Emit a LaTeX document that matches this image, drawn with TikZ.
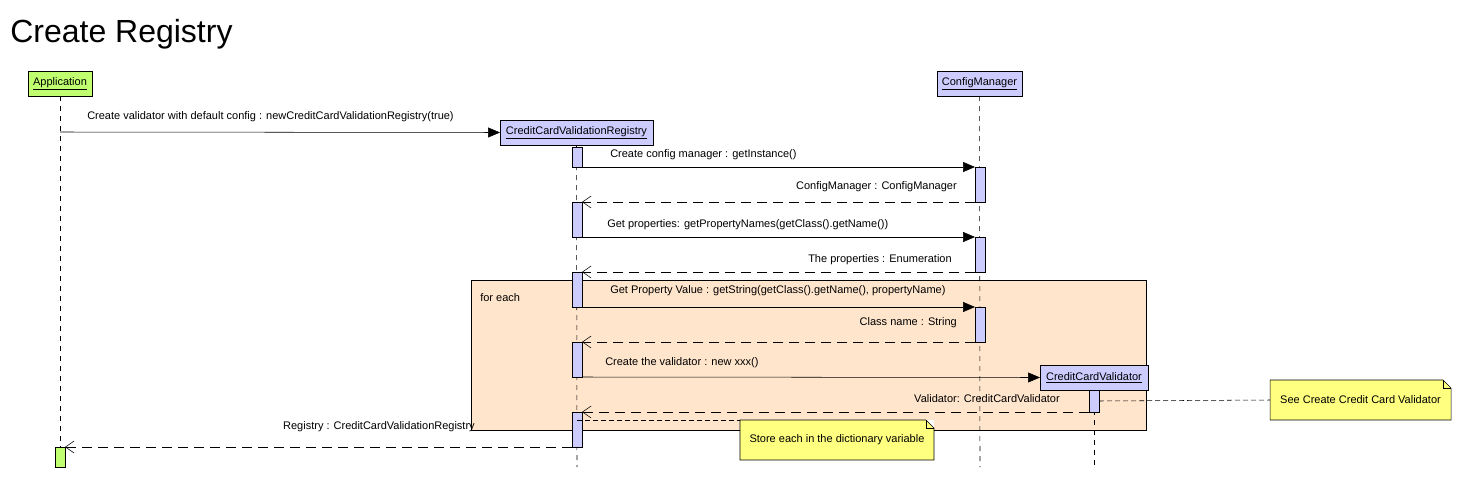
\documentclass[tikz,border=0pt]{standalone}
\usepackage{fontspec}
\setmainfont{Liberation Sans}
\usetikzlibrary{arrows.meta, positioning}
\definecolor{partblue}{RGB}{204,204,255}
\definecolor{partgreen}{RGB}{192,255,112}
\definecolor{loopfill}{RGB}{255,229,204}
\definecolor{notefill}{RGB}{255,255,128}
\newcommand{\drawNoteFold}[1]{\fill[white] ([xshift=-6pt]#1.north east) -- (#1.north east) -- ([yshift=-6pt]#1.north east) -- cycle;
  \draw (#1.north west) -- ([xshift=-6pt]#1.north east) -- ([yshift=-6pt]#1.north east) -- (#1.south east) -- (#1.south west) -- cycle;
  \draw ([xshift=-6pt]#1.north east) |- ([yshift=-6pt]#1.north east);}
\tikzset{x=0.75pt, y=-0.75pt, line width=0.75pt,
    font=\fontsize{8.25}{10}\selectfont,
    actor/.style={draw, fill=partblue, inner sep=0pt, outer sep=0pt, minimum height=18.75pt},
    act/.style={draw, fill=partblue, inner sep=0pt, outer sep=0pt, minimum width=7.5pt},
    loopbox/.style={draw, fill=loopfill, inner sep=0pt, outer sep=0pt},
    notebox/.style={fill=notefill, inner sep=0pt, outer sep=0pt, minimum height=30pt},
    lifeline/.style={dash pattern=on 3.75pt off 3.75pt},
    call/.style={-{Triangle[length=9pt,width=7.5pt]}},
    reply/.style={dash pattern=on 7.5pt off 4.5pt, -{Straight Barb[length=6.5pt,width=9pt]}},
    notelink/.style={dash pattern=on 3.75pt off 2.25pt},
    msg/.style={inner sep=0pt}}
\begin{document}
\begin{tikzpicture}
\useasboundingbox (0,0) rectangle (1462,478);
\node[msg, anchor=base west, font=\fontsize{24}{28}\selectfont] (title) at (10,43) {Create Registry};

% loop frame
\node[loopbox, minimum width=506.25pt, minimum height=112.5pt] (loop) at (808.5,355) {};
\node[msg, anchor=west] (foreach) at ([xshift=6.75pt, yshift=-13.5pt]loop.north west) {for each};

% participants
\node[actor, fill=partgreen, minimum width=48pt]  (app) at (60,83.5)    {\underline{Application}};
\node[actor, minimum width=114.75pt]              (reg) at (576.5,132.5) {\underline{CreditCardValidationRegistry}};
\node[actor, minimum width=63.75pt]               (cm)  at (979.5,83.5)  {\underline{ConfigManager}};
\node[actor, minimum width=81pt]                  (ccv) at (1094,377.5)  {\underline{CreditCardValidator}};

\coordinate (appM)   at (60,132);
\coordinate (regEnd) at (577,467);
\coordinate (cmEnd)  at (980,467);
\coordinate (ccvEnd) at (1094,467);
\coordinate (regN)   at (577,420);

% activations
\node[act, fill=partgreen, minimum height=15pt] (a1) at (60,457) {};
\draw[lifeline] (app.south) -- (a1.north);
\draw[lifeline] (reg.south) -- (regEnd);
\draw[lifeline] (cm.south) -- (cmEnd);
\draw[lifeline] (ccv.south) -- (ccvEnd);
\node[act, minimum height=15pt]    (r1) at (577,157)   {};
\node[act, minimum height=26.25pt] (r2) at (577,219.5) {};
\node[act, minimum height=26.25pt] (r3) at (577,289.5) {};
\node[act, minimum height=26.25pt] (r4) at (577,359.5) {};
\node[act, minimum height=26.25pt] (r5) at (577,429.5) {};
\node[act, minimum height=26.25pt] (c1) at (980,184.5) {};
\node[act, minimum height=26.25pt] (c2) at (980,254.5) {};
\node[act, minimum height=26.25pt] (c3) at (980,324.5) {};
\node[act, minimum height=16.5pt]  (v1) at (1094,401)  {};

% messages
\draw[call]  (appM) -- (reg.west);
\draw[call]  (r1.south east) -- (c1.north west);
\draw[reply] (c1.south west) -- (r2.north east);
\draw[call]  (r2.south east) -- (c2.north west);
\draw[reply] (c2.south west) -- (r3.north east);
\draw[call]  (r3.south east) -- (c3.north west);
\draw[reply] (c3.south west) -- (r4.north east);
\draw[call]  (r4.south east) -- (ccv.west);
\draw[reply] (v1.south west) -- (r5.north east);
\draw[reply] (r5.south west) -- (a1.north east);

\node[msg, anchor=west] (l1)  at (87,117)   {Create validator with default config : newCreditCardValidationRegistry(true)};
\node[msg, anchor=west] (l2)  at (610,155)  {Create config manager : getInstance()};
\node[msg, anchor=east] (l3)  at (957,187)  {ConfigManager : ConfigManager};
\node[msg, anchor=west] (l4)  at (607,225)  {Get properties: getPropertyNames(getClass().getName())};
\node[msg, anchor=east] (l5)  at (952,260)  {The properties : Enumeration};
\node[msg, anchor=west] (l6)  at (610,291)  {Get Property Value : getString(getClass().getName(), propertyName)};
\node[msg, anchor=east] (l7)  at (957,323)  {Class name : String};
\node[msg, anchor=west] (l8)  at (605,363)  {Create the validator : new xxx()};
\node[msg, anchor=east] (l9)  at (1060,399) {Validator: CreditCardValidator};
\node[msg, anchor=east] (l10) at (475,427)  {Registry : CreditCardValidationRegistry};

% notes
\node[notebox, minimum width=145.5pt]  (n1) at (837,440)    {Store each in the dictionary variable};
\node[notebox, minimum width=135.75pt] (n2) at (1360.5,400) {See Create Credit Card Validator};
\drawNoteFold{n1}
\drawNoteFold{n2}
\draw[notelink] (regN) -- (n1.north west);
\draw[notelink] (v1.east) -- (n2.west);
\end{tikzpicture}
\end{document}
